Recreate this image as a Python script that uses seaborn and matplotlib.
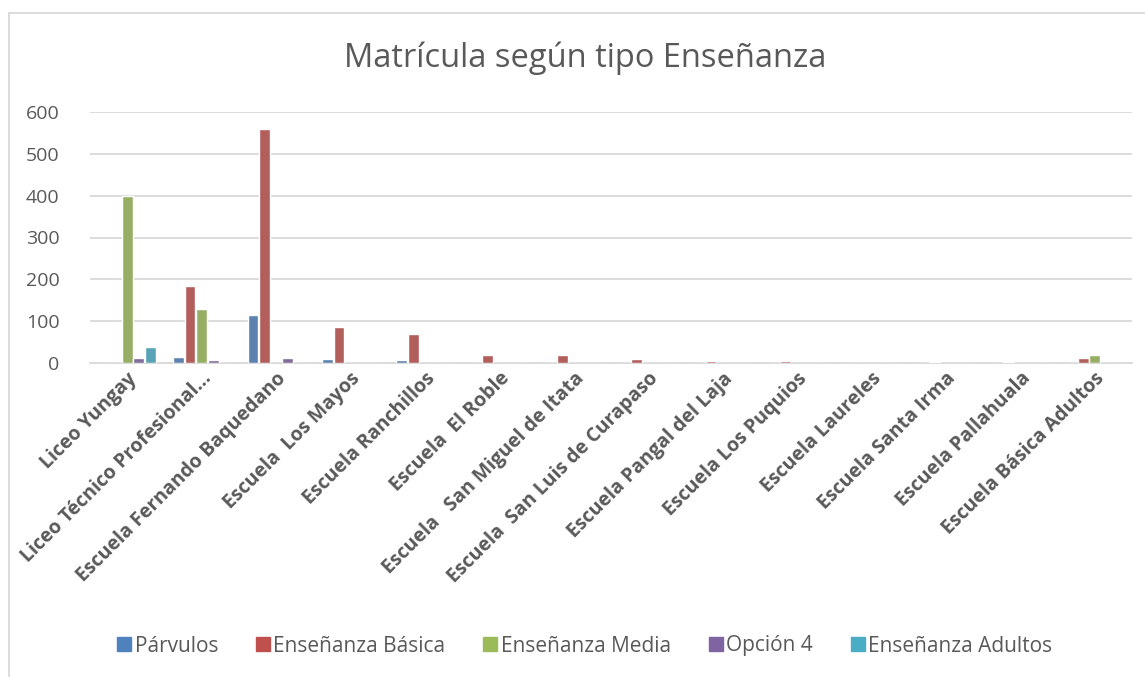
import seaborn as sns
import numpy as np
import pandas as pd
import matplotlib.pyplot as plt
from matplotlib.lines import Line2D

sns.set_style("white")
plt.rcParams['font.family'] = ['Open Sans', 'DejaVu Sans']

escuelas = ['Liceo Yungay', 'Liceo Técnico Profesional...', 'Escuela Fernando Baquedano',
            'Escuela  Los Mayos', 'Escuela Ranchillos', 'Escuela  El Roble',
            'Escuela   San Miguel de Itata', 'Escuela  San Luis de Curapaso',
            'Escuela Pangal del Laja', 'Escuela Los Puquios', 'Escuela Laureles',
            'Escuela Santa Irma', 'Escuela Pallahuala', 'Escuela Básica Adultos']
series = ['Párvulos', 'Enseñanza Básica', 'Enseñanza Media', 'Opción 4', 'Enseñanza Adultos']

parvulos = [0, 15, 115, 9, 8, 0, 0, 0, 0, 0, 0, 0, 0, 0]
basica = [0, 183, 560, 85, 69, 19, 19, 9, 5, 4, 1, 3, 3, 13]
media = [400, 130, 0, 0, 0, 0, 0, 0, 0, 0, 0, 0, 0, 20]
opcion4 = [13, 6, 12, 0, 0, 0, 0, 0, 0, 0, 0, 0, 0, 0]
adultos = [38, 0, 0, 0, 0, 0, 0, 0, 0, 0, 0, 0, 0, 0]

colores = ['#4F81BD', '#C0504D', '#9BBB59', '#8064A2', '#4BACC6']

df = pd.DataFrame({'Escuela': escuelas * 5,
                   'Tipo': np.repeat(series, len(escuelas)),
                   'Matricula': parvulos + basica + media + opcion4 + adultos})

fig = plt.figure(figsize=(11.45, 6.77), dpi=100)
ax = fig.add_axes([90 / 1145, 1 - 363 / 677, 1042 / 1145, 251 / 677])

sns.barplot(data=df, x='Escuela', y='Matricula', hue='Tipo', hue_order=series,
            palette=colores, width=0.78, gap=0.08, ax=ax, legend=False)

gris = '#595959'
ax.set_ylim(0, 600)
ax.set_xlim(-0.5, len(escuelas) - 0.5)
ax.set_yticks(range(0, 601, 100))
ax.yaxis.grid(True, color='#D9D9D9', linewidth=1.3)
ax.set_axisbelow(True)
for s in ['top', 'right', 'left']:
    ax.spines[s].set_visible(False)
ax.spines['bottom'].set_color('#D9D9D9')
ax.spines['bottom'].set_linewidth(1.3)
ax.spines['bottom'].set_zorder(0.5)
ax.tick_params(axis='y', length=0, pad=22, labelsize=14, labelcolor=gris)
ax.tick_params(axis='x', length=0, pad=4)
ax.set_xticks(range(len(escuelas)))
ax.set_xticklabels(escuelas, rotation=45, ha='right', rotation_mode='anchor',
                   fontsize=14, fontweight='bold', color=gris)
ax.set_xlabel('')
ax.set_ylabel('')

fig.text(0.511, 1 - 58 / 677, 'Matrícula según tipo Enseñanza', ha='center', va='center',
         fontsize=23.5, color=gris)

handles = [Line2D([], [], marker='s', linestyle='', markersize=10, color=c) for c in colores]
fig.legend(handles, series, loc='center', bbox_to_anchor=(0.51, 1 - 646 / 677), ncol=5,
           frameon=False, fontsize=15, labelcolor=gris, handletextpad=0.1,
           columnspacing=1.75, handlelength=0.8)

# borde del grafico
fig.add_artist(Line2D([9 / 1145, 1], [1 - 13 / 677, 1 - 13 / 677], color='#D9D9D9', linewidth=1.3))
fig.add_artist(Line2D([9 / 1145, 9 / 1145], [0, 1 - 13 / 677], color='#D9D9D9', linewidth=1.3))

fig.savefig('out.png', dpi=100)
